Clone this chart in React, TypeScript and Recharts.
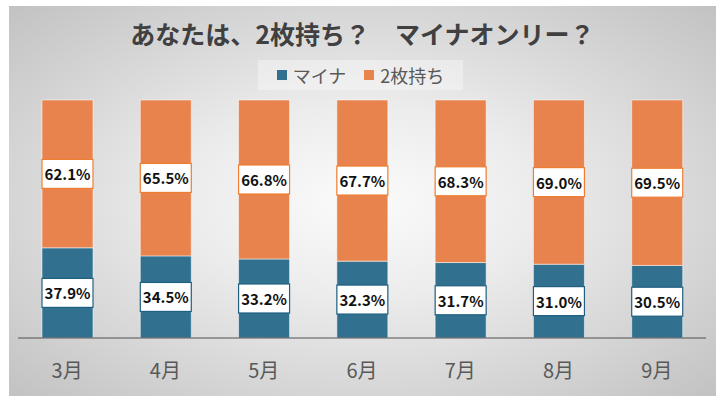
import React from "react";
import { BarChart, Bar, XAxis, YAxis, LabelList } from "recharts";

const months = ["3月", "4月", "5月", "6月", "7月", "8月", "9月"];
const minaOnly = [37.9, 34.5, 33.2, 32.3, 31.7, 31.0, 30.5];
const twoCards = [62.1, 65.5, 66.8, 67.7, 68.3, 69.0, 69.5];

const seriesNames = ["マイナ", "2枚持ち"];
const BLUE = "#31718F";
const ORANGE = "#E8834E";

const FONT = "'Noto Sans CJK JP', 'Noto Sans', sans-serif";

const data = months.map((m, i) => ({
  month: m,
  mina: minaOnly[i],
  two: twoCards[i],
}));

// eslint-disable-next-line @typescript-eslint/no-explicit-any
const makeLabel = (border: string) => (props: any) => {
  const { x, y, width, height, value } = props;
  const boxH = 29;
  const cy = Number(y) + Number(height) / 2;
  return (
    <g>
      <rect
        x={Number(x)}
        y={cy - boxH / 2}
        width={Number(width)}
        height={boxH}
        fill="#ffffff"
        stroke={border}
        strokeWidth={1.2}
      />
      <text
        x={Number(x) + Number(width) / 2}
        y={cy}
        textAnchor="middle"
        dominantBaseline="central"
        fontFamily={FONT}
        fontWeight={700}
        fontSize={15}
        fill="#111111"
      >
        {`${Number(value).toFixed(1)}%`}
      </text>
    </g>
  );
};

export default function App() {
  return (
    <div
      style={{
        position: "absolute",
        left: 9,
        top: 6,
        width: 707,
        height: 390,
        background:
          "radial-gradient(ellipse farthest-corner at 50% 50%, #fbfbfb 0%, #ececec 35%, #c2c2c2 100%)",
        fontFamily: FONT,
      }}
    >
      <div
        style={{
          position: "absolute",
          top: 12,
          left: 0,
          width: "100%",
          textAlign: "center",
          fontSize: 25,
          fontWeight: 700,
          color: "#404040",
          lineHeight: "30px",
        }}
      >
        あなたは、2枚持ち？　マイナオンリー？
      </div>
      <div
        style={{
          position: "absolute",
          top: 54,
          left: 249,
          width: 205,
          height: 30,
          background: "rgba(255,255,255,0.35)",
          display: "flex",
          alignItems: "center",
          justifyContent: "center",
          fontSize: 18,
          color: "#595959",
          gap: 18,
        }}
      >
        {seriesNames.map((name, i) => (
          <span key={name} style={{ display: "flex", alignItems: "center" }}>
            <span
              style={{
                display: "inline-block",
                width: 10,
                height: 10,
                background: i === 0 ? BLUE : ORANGE,
                marginRight: 6,
              }}
            />
            {name}
          </span>
        ))}
      </div>
      <BarChart
        width={707}
        height={390}
        data={data}
        margin={{ top: 94, right: 10, bottom: 0, left: 9 }}
        style={{ position: "absolute", left: 0, top: 0 }}
      >
        <XAxis
          dataKey="month"
          axisLine={{ stroke: "#505050", strokeWidth: 1.2 }}
          tickLine={false}
          height={58}
          tickMargin={20}
          tick={{ fontSize: 20, fill: "#595959", fontFamily: FONT }}
        />
        <YAxis hide domain={[0, 100]} />
        <Bar
          dataKey="mina"
          stackId="a"
          fill={BLUE}
          barSize={51}
          stroke="rgba(255,255,255,0.5)"
          strokeWidth={1}
          isAnimationActive={false}
        >
          <LabelList dataKey="mina" content={makeLabel("#1F5F80")} />
        </Bar>
        <Bar
          dataKey="two"
          stackId="a"
          fill={ORANGE}
          barSize={51}
          stroke="rgba(255,255,255,0.5)"
          strokeWidth={1}
          isAnimationActive={false}
        >
          <LabelList dataKey="two" content={makeLabel("#ED7D31")} />
        </Bar>
      </BarChart>
    </div>
  );
}
